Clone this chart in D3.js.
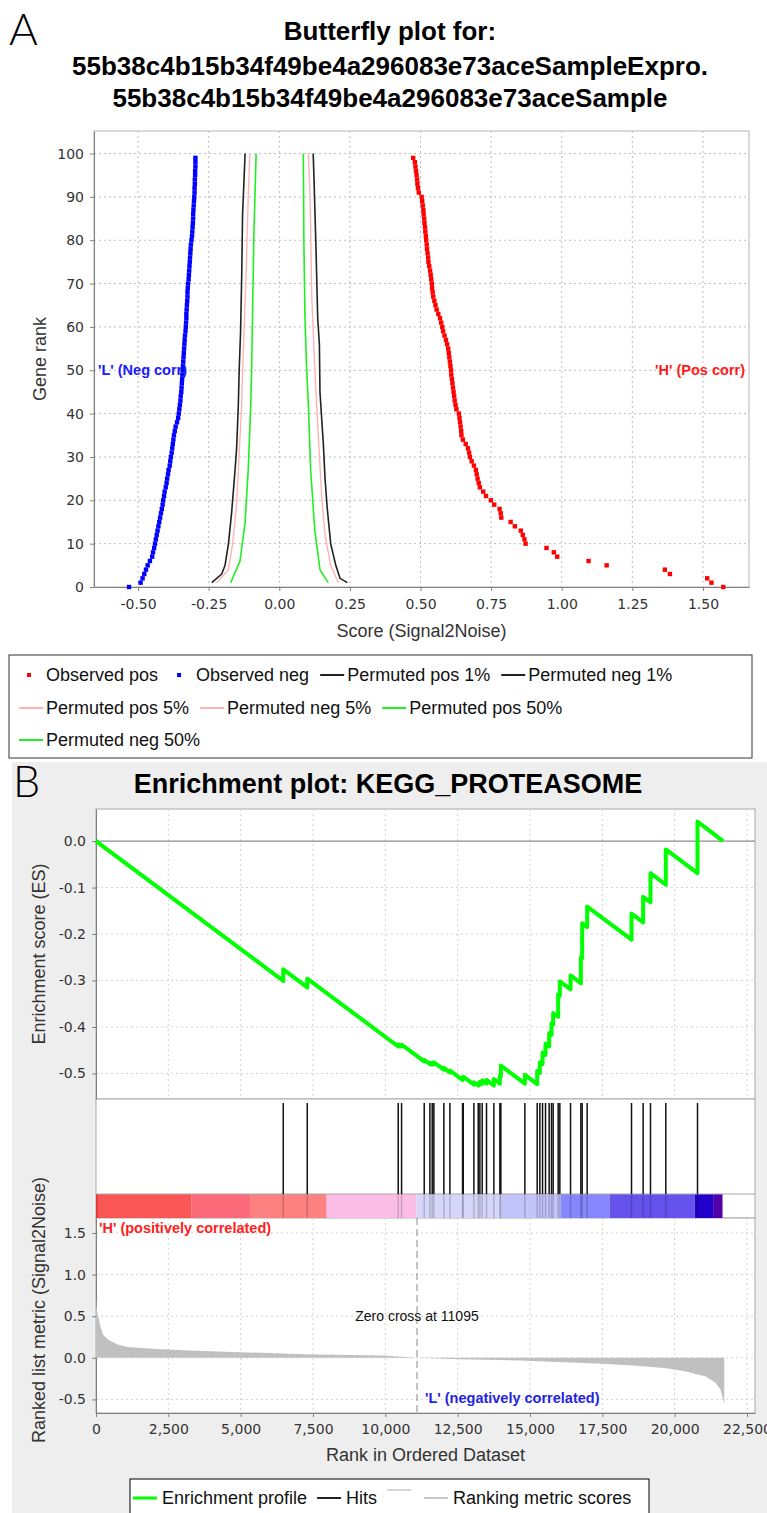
<!DOCTYPE html>
<meta charset="utf-8">
<style>
  html, body { margin:0; padding:0; background:#fff; }
  svg { display:block; }
</style>
<svg width="767" height="1513"></svg>
<script src="https://cdn.jsdelivr.net/npm/d3@7"></script>
<script>

// ---------- panel A data (butterfly plot) ----------
var titleA = ["Butterfly plot for:",
              "55b38c4b15b34f49be4a296083e73aceSampleExpro.",
              "55b38c4b15b34f49be4a296083e73aceSample"];
var scoreTicks = [-0.5, -0.25, 0, 0.25, 0.5, 0.75, 1, 1.25, 1.5];
var rankTicks = [0, 10, 20, 30, 40, 50, 60, 70, 80, 90, 100];

// observed score at gene rank 0..99
var obsPos = [1.572,1.530,1.515,1.383,1.365,1.159,1.095,0.984,0.972,0.946,
  0.872,0.868,0.862,0.855,0.834,0.819,0.786,0.784,0.780,0.761,
  0.749,0.732,0.722,0.710,0.706,0.702,0.699,0.696,0.689,0.681,
  0.675,0.672,0.668,0.660,0.650,0.645,0.644,0.642,0.640,0.638,
  0.636,0.627,0.624,0.621,0.619,0.617,0.615,0.613,0.611,0.609,
  0.608,0.606,0.604,0.602,0.600,0.598,0.594,0.590,0.585,0.580,
  0.577,0.573,0.569,0.563,0.557,0.553,0.549,0.545,0.543,0.541,
  0.540,0.538,0.536,0.534,0.531,0.528,0.527,0.525,0.523,0.522,
  0.520,0.519,0.517,0.516,0.514,0.513,0.511,0.510,0.508,0.506,
  0.504,0.494,0.491,0.489,0.488,0.486,0.484,0.482,0.480,0.474];
var obsNeg = [-0.532,-0.491,-0.484,-0.478,-0.472,-0.466,-0.458,-0.450,-0.447,-0.443,
  -0.440,-0.437,-0.434,-0.431,-0.428,-0.425,-0.422,-0.419,-0.416,-0.413,
  -0.411,-0.408,-0.406,-0.402,-0.399,-0.397,-0.394,-0.392,-0.388,-0.386,
  -0.384,-0.381,-0.379,-0.377,-0.375,-0.373,-0.370,-0.367,-0.362,-0.358,
  -0.356,-0.354,-0.352,-0.350,-0.349,-0.347,-0.346,-0.345,-0.344,-0.343,
  -0.342,-0.341,-0.340,-0.339,-0.338,-0.337,-0.336,-0.335,-0.334,-0.332,
  -0.331,-0.330,-0.329,-0.329,-0.328,-0.327,-0.326,-0.325,-0.325,-0.324,
  -0.323,-0.321,-0.320,-0.319,-0.318,-0.317,-0.316,-0.315,-0.314,-0.313,
  -0.311,-0.309,-0.308,-0.307,-0.306,-0.305,-0.305,-0.304,-0.303,-0.302,
  -0.301,-0.300,-0.300,-0.299,-0.299,-0.298,-0.298,-0.297,-0.297,-0.297];

// permuted envelopes: [rank, score]
var perm1Pos = [[1,0.241],[2,0.215],[5,0.200],[10,0.182],[18,0.170],[25,0.162],[33,0.156],[45,0.144],[56,0.142],[62,0.136],[78,0.130],[94,0.123],[100,0.120]];
var perm1Neg = [[1,-0.239],[3,-0.204],[5,-0.192],[10,-0.180],[17,-0.169],[25,-0.159],[32,-0.151],[42,-0.145],[50,-0.142],[59,-0.137],[72,-0.133],[86,-0.130],[100,-0.121]];
var perm5Pos = [[1,0.209],[5,0.182],[12,0.162],[21,0.150],[35,0.138],[50,0.126],[67,0.115],[90,0.109],[100,0.103]];
var perm5Neg = [[1,-0.222],[4,-0.180],[10,-0.165],[19,-0.151],[31,-0.142],[42,-0.133],[50,-0.130],[71,-0.118],[90,-0.110],[100,-0.104]];
var perm50Pos = [[1,0.173],[4,0.144],[13,0.126],[27,0.111],[42,0.103],[50,0.097],[62,0.091],[80,0.087],[100,0.085]];
var perm50Neg = [[1,-0.172],[6,-0.139],[15,-0.121],[27,-0.110],[42,-0.101],[50,-0.098],[81,-0.090],[100,-0.082]];

var legendA = ["Observed pos", "Observed neg", "Permuted pos 1%", "Permuted neg 1%",
               "Permuted pos 5%", "Permuted neg 5%", "Permuted pos 50%", "Permuted neg 50%"];

// ---------- panel B data (enrichment plot) ----------
var titleB = "Enrichment plot: KEGG_PROTEASOME";
var rankAxisTicks = [0, 2500, 5000, 7500, 10000, 12500, 15000, 17500, 20000, 22500];
var esTicks = [-0.5, -0.4, -0.3, -0.2, -0.1, 0.0];
var metricTicks = [-0.5, 0.0, 0.5, 1.0, 1.5];

// running enrichment score: [rank, ES]
var esProfile = [[0,0],
  [6472,-0.301],[6472,-0.276],[7301,-0.315],[7301,-0.296],
  [10445,-0.442],[10445,-0.437],[10561,-0.442],[10561,-0.438],
  [11344,-0.474],[11344,-0.471],[11540,-0.480],[11540,-0.477],
  [11620,-0.481],[11620,-0.477],[11678,-0.480],[11678,-0.476],
  [12023,-0.492],[12023,-0.488],[12231,-0.498],[12231,-0.494],
  [12669,-0.514],[12669,-0.510],[12692,-0.511],[12692,-0.507],
  [13060,-0.524],[13060,-0.519],[13210,-0.526],[13210,-0.521],
  [13267,-0.524],[13267,-0.518],[13347,-0.522],[13347,-0.515],
  [13497,-0.522],[13497,-0.514],[13751,-0.526],[13751,-0.512],
  [13958,-0.522],[13958,-0.505],[13993,-0.507],[13993,-0.483],
  [14822,-0.522],[14822,-0.503],[15248,-0.523],[15248,-0.495],
  [15340,-0.499],[15340,-0.476],[15433,-0.480],[15433,-0.455],
  [15536,-0.460],[15536,-0.436],[15662,-0.442],[15662,-0.413],
  [15743,-0.417],[15743,-0.392],[15800,-0.395],[15800,-0.370],
  [15973,-0.378],[15973,-0.330],[16031,-0.333],[16031,-0.302],
  [16401,-0.319],[16401,-0.289],[16757,-0.306],[16757,-0.250],
  [16803,-0.252],[16803,-0.177],[16975,-0.185],[16975,-0.141],
  [18508,-0.212],[18508,-0.156],[18910,-0.175],[18910,-0.120],
  [19164,-0.132],[19164,-0.069],[19693,-0.094],[19693,-0.018],
  [20789,-0.069],[20789,0.042],[21673,0.000]];

var hitRanks = [6472,7301,10445,10561,11344,11540,11620,11678,12023,12231,12669,12692,
  13060,13210,13267,13347,13497,13751,13958,13993,14822,15248,15340,15433,15536,15662,
  15743,15800,15973,16031,16401,16757,16803,16975,18508,18910,19164,19693,20789];

var bandEdges = [0,69,3306,5321,7971,11080,14017,16066,17759,20695,21328,21653];
var bandColors = ["#e8393f","#fa5656","#fb6a78","#fc8282","#fbbde6","#d6d6fb",
                  "#c4c4fd","#8686fd","#6652ec","#2200cc","#5000a8"];

// ranked list metric: [rank, Signal2Noise]
var metric = [[0,0.70],[20,0.60],[60,0.52],[155,0.375],[240,0.28],[409,0.22],[747,0.16],
  [1088,0.13],[1595,0.117],[2103,0.105],[3204,0.088],[4982,0.068],[7186,0.044],
  [9895,0.028],[11095,0.0],[12518,-0.016],[14636,-0.032],[16159,-0.052],[17517,-0.072],
  [18702,-0.096],[19717,-0.124],[20395,-0.164],[21072,-0.224],[21411,-0.30],
  [21580,-0.38],[21680,-0.50],[21715,-0.56]];
var zeroCross = 11095;

var legendB = ["Enrichment profile", "Hits", "", "Ranking metric scores"];

// ---------- drawing ----------
var svg = d3.select("svg");
var fTick = "'DejaVu Sans', sans-serif",
    fText = "'Liberation Sans', Arial, sans-serif";

function styleAxis(g) {
  g.attr("font-family", fTick).attr("font-size", 14);
  g.select(".domain").attr("stroke", "#808080");
  g.selectAll(".tick line").attr("stroke", "#808080");
  g.selectAll(".tick text").attr("fill", "#333");
}
function grid(g, xs, ys, x, y, box, color) {
  g.append("g").selectAll("line").data(xs).join("line")
      .attr("x1", function(d) { return x(d); }).attr("x2", function(d) { return x(d); })
      .attr("y1", box.t).attr("y2", box.b)
      .attr("stroke", color).attr("stroke-dasharray", "2,3");
  g.append("g").selectAll("line").data(ys).join("line")
      .attr("y1", function(d) { return y(d); }).attr("y2", function(d) { return y(d); })
      .attr("x1", box.l).attr("x2", box.r)
      .attr("stroke", color).attr("stroke-dasharray", "2,3");
}

// ===== Panel A =====
svg.append("text").attr("x", 9).attr("y", 45)
    .attr("font-family", "Lato, " + fText).attr("font-weight", 300).attr("font-size", 44)
    .text("A");

svg.append("g").selectAll("text").data(titleA).join("text")
    .attr("x", 390).attr("y", function(d, i) { return [40, 75, 107][i]; })
    .attr("text-anchor", "middle").attr("font-family", fText)
    .attr("font-weight", "bold").attr("font-size", 26)
    .text(function(d) { return d; });

var ba = {l: 94, r: 749, t: 131, b: 587};
var xA = d3.scaleLinear().domain([-0.656, 1.663]).range([ba.l, ba.r]);
var yA = d3.scaleLinear().domain([0, 105.2]).range([ba.b, ba.t]);
var gA = svg.append("g");

gA.append("rect").attr("x", ba.l).attr("y", ba.t)
    .attr("width", ba.r - ba.l).attr("height", ba.b - ba.t)
    .attr("fill", "#fff").attr("stroke", "#b4b4b4");
grid(gA, scoreTicks, rankTicks.slice(1), xA, yA, ba, "#bdbdbd");

gA.append("g").attr("transform", "translate(0," + ba.b + ")")
    .call(d3.axisBottom(xA).tickValues(scoreTicks).tickSize(4).tickSizeOuter(0)
      .tickPadding(8).tickFormat(function(d) { return d.toFixed(2); }))
    .call(styleAxis);
gA.append("g").attr("transform", "translate(" + ba.l + ",0)")
    .call(d3.axisLeft(yA).tickValues(rankTicks).tickSize(4).tickSizeOuter(0)
      .tickPadding(6).tickFormat(d3.format("d")))
    .call(styleAxis);

gA.append("text").attr("x", (ba.l + ba.r) / 2).attr("y", 637)
    .attr("text-anchor", "middle").attr("font-family", fText).attr("font-size", 18)
    .attr("fill", "#333").text("Score (Signal2Noise)");
gA.append("text").attr("transform", "translate(46," + (ba.t + ba.b) / 2 + ") rotate(-90)")
    .attr("text-anchor", "middle").attr("font-family", fText).attr("font-size", 18)
    .attr("fill", "#333").text("Gene rank");

var permLine = d3.line()
    .x(function(d) { return xA(d[1]); })
    .y(function(d) { return yA(d[0]); });
var permSets = [
  {d: perm5Pos, c: "#ffb4b4", w: 1.4}, {d: perm5Neg, c: "#ffb4b4", w: 1.4},
  {d: perm50Pos, c: "#22ee22", w: 1.6}, {d: perm50Neg, c: "#22ee22", w: 1.6},
  {d: perm1Pos, c: "#222", w: 1.6}, {d: perm1Neg, c: "#222", w: 1.6}];
gA.append("g").selectAll("path").data(permSets).join("path")
    .attr("d", function(s) { return permLine(s.d); })
    .attr("fill", "none")
    .attr("stroke", function(s) { return s.c; })
    .attr("stroke-width", function(s) { return s.w; });

gA.append("g").selectAll("rect").data(obsNeg).join("rect")
    .attr("x", function(d) { return xA(d) - 2.2; })
    .attr("y", function(d, i) { return yA(i) - 2.2; })
    .attr("width", 4.4).attr("height", 4.4).attr("fill", "#0000ff");
gA.append("g").selectAll("rect").data(obsPos).join("rect")
    .attr("x", function(d) { return xA(d) - 2.2; })
    .attr("y", function(d, i) { return yA(i) - 2.2; })
    .attr("width", 4.4).attr("height", 4.4).attr("fill", "#ff0000");

gA.append("text").attr("x", 98).attr("y", yA(50) + 5)
    .attr("font-family", fText).attr("font-weight", "bold").attr("font-size", 14.5)
    .attr("fill", "#1a1aff").text("'L' (Neg corr)");
gA.append("text").attr("x", 745).attr("y", yA(50) + 5).attr("text-anchor", "end")
    .attr("font-family", fText).attr("font-weight", "bold").attr("font-size", 14.5)
    .attr("fill", "#ff1a1a").text("'H' (Pos corr)");

// legend A
var legA = svg.append("g");
legA.append("rect").attr("x", 9).attr("y", 655).attr("width", 743).attr("height", 103)
    .attr("fill", "none").attr("stroke", "#333");
var legAMarks = [
  {t: "dot", c: "#ff0000"}, {t: "dot", c: "#0000ff"}, {t: "line", c: "#222"}, {t: "line", c: "#222"},
  {t: "line", c: "#ffb4b4"}, {t: "line", c: "#ffb4b4"}, {t: "line", c: "#22ee22"}, {t: "line", c: "#22ee22"}];
var legARows = [0, 0, 0, 0, 1, 1, 1, 2], rowY = [675, 708, 740];
var cx = 19, lastRow = 0;
legendA.forEach(function(lbl, i) {
  var r = legARows[i];
  if (r !== lastRow) { cx = 19; lastRow = r; }
  var m = legAMarks[i], y = rowY[r];
  if (m.t === "dot") {
    legA.append("rect").attr("x", cx + 8).attr("y", y - 2).attr("width", 4).attr("height", 4).attr("fill", m.c);
  } else {
    legA.append("line").attr("x1", cx).attr("x2", cx + 24).attr("y1", y).attr("y2", y)
        .attr("stroke", m.c).attr("stroke-width", 2);
  }
  var t = legA.append("text").attr("x", cx + 27).attr("y", y + 6)
      .attr("font-family", fText).attr("font-size", 18).attr("fill", "#111").text(lbl);
  cx = cx + 27 + t.node().getComputedTextLength() + 11;
});

// ===== Panel B =====
svg.append("rect").attr("x", 12).attr("y", 762).attr("width", 755).attr("height", 751)
    .attr("fill", "#eeeeee");
svg.append("text").attr("x", 13).attr("y", 797)
    .attr("font-family", "Lato, " + fText).attr("font-weight", 300).attr("font-size", 43)
    .text("B");
svg.append("text").attr("x", 388).attr("y", 793).attr("text-anchor", "middle")
    .attr("font-family", fText).attr("font-weight", "bold").attr("font-size", 27)
    .text(titleB);

var xB = d3.scaleLinear().domain([0, 22776]).range([96, 755]);
var es = {l: 96, r: 755, t: 809, b: 1099};
var hp = {l: 96, r: 755, t: 1099, b: 1218};
var mp = {l: 96, r: 755, t: 1218, b: 1413};
var yES = d3.scaleLinear().domain([-0.555, 0.069]).range([es.b, es.t]);
var yM = d3.scaleLinear().domain([-0.663, 1.68]).range([mp.b, mp.t]);
var gB = svg.append("g");

[es, hp, mp].forEach(function(p) {
  gB.append("rect").attr("x", p.l).attr("y", p.t).attr("width", p.r - p.l).attr("height", p.b - p.t)
      .attr("fill", "#fff").attr("stroke", "#a8a8a8");
});
grid(gB, rankAxisTicks.slice(1), esTicks.slice(0, -1), xB, yES, es, "#d2d2d2");
grid(gB, rankAxisTicks.slice(1), metricTicks, xB, yM, mp, "#d2d2d2");
gB.append("line").attr("x1", es.l).attr("x2", es.r).attr("y1", yES(0)).attr("y2", yES(0))
    .attr("stroke", "#8c8c8c").attr("stroke-width", 1.3);

gB.append("g").attr("transform", "translate(" + es.l + ",0)")
    .call(d3.axisLeft(yES).tickValues(esTicks).tickSize(4).tickSizeOuter(0).tickPadding(6)
      .tickFormat(function(d) { return d.toFixed(1); }))
    .call(styleAxis);
gB.append("g").attr("transform", "translate(" + mp.l + ",0)")
    .call(d3.axisLeft(yM).tickValues(metricTicks).tickSize(4).tickSizeOuter(0).tickPadding(6)
      .tickFormat(function(d) { return d.toFixed(1); }))
    .call(styleAxis);
gB.append("g").attr("transform", "translate(0," + mp.b + ")")
    .call(d3.axisBottom(xB).tickValues(rankAxisTicks).tickSize(4).tickSizeOuter(0).tickPadding(7)
      .tickFormat(d3.format(",")))
    .call(styleAxis);

// ranked metric area
gB.append("path").datum(metric)
    .attr("d", d3.area().x(function(d) { return xB(d[0]); })
      .y0(yM(0)).y1(function(d) { return yM(d[1]); }))
    .attr("fill", "#c0c0c0");

// colour bar
var bar = {t: 1194, b: 1218};
gB.append("g").selectAll("rect").data(bandColors).join("rect")
    .attr("x", function(d, i) { return xB(bandEdges[i]); })
    .attr("width", function(d, i) { return xB(bandEdges[i + 1]) - xB(bandEdges[i]); })
    .attr("y", bar.t).attr("height", bar.b - bar.t)
    .attr("fill", function(d) { return d; });
gB.append("line").attr("x1", hp.l).attr("x2", hp.r).attr("y1", bar.t).attr("y2", bar.t)
    .attr("stroke", "#a8a8a8");

// hits
gB.append("g").selectAll("line").data(hitRanks).join("line")
    .attr("x1", function(d) { return xB(d); }).attr("x2", function(d) { return xB(d); })
    .attr("y1", 1103).attr("y2", bar.t)
    .attr("stroke", "#111").attr("stroke-width", 1.5);
gB.append("g").selectAll("line").data(hitRanks).join("line")
    .attr("x1", function(d) { return xB(d); }).attr("x2", function(d) { return xB(d); })
    .attr("y1", bar.t).attr("y2", bar.b)
    .attr("stroke", "#000").attr("stroke-opacity", 0.18).attr("stroke-width", 1.5);

// zero cross
gB.append("line").attr("x1", xB(zeroCross)).attr("x2", xB(zeroCross))
    .attr("y1", mp.t).attr("y2", mp.b)
    .attr("stroke", "#8a8a8a").attr("stroke-dasharray", "7,4");
gB.append("text").attr("x", 417).attr("y", yM(0.5) + 5).attr("text-anchor", "middle")
    .attr("font-family", fText).attr("font-size", 14).attr("fill", "#111")
    .text("Zero cross at " + zeroCross);
gB.append("text").attr("x", 99).attr("y", 1233)
    .attr("font-family", fText).attr("font-weight", "bold").attr("font-size", 14.5)
    .attr("fill", "#ff2020").text("'H' (positively correlated)");
gB.append("text").attr("x", 425).attr("y", 1403)
    .attr("font-family", fText).attr("font-weight", "bold").attr("font-size", 14.5)
    .attr("fill", "#2424e0").text("'L' (negatively correlated)");

// ES profile
gB.append("path").datum(esProfile)
    .attr("d", d3.line().x(function(d) { return xB(d[0]); }).y(function(d) { return yES(d[1]); }))
    .attr("fill", "none").attr("stroke", "#00ff00").attr("stroke-width", 4)
    .attr("stroke-linejoin", "round");

// axis titles
gB.append("text").attr("transform", "translate(45," + (es.t + es.b) / 2 + ") rotate(-90)")
    .attr("text-anchor", "middle").attr("font-family", fText).attr("font-size", 18)
    .attr("fill", "#333").text("Enrichment score (ES)");
gB.append("text").attr("transform", "translate(45,1310) rotate(-90)")
    .attr("text-anchor", "middle").attr("font-family", fText).attr("font-size", 18)
    .attr("fill", "#333").text("Ranked list metric (Signal2Noise)");
gB.append("text").attr("x", (mp.l + mp.r) / 2).attr("y", 1461).attr("text-anchor", "middle")
    .attr("font-family", fText).attr("font-size", 18).attr("fill", "#333")
    .text("Rank in Ordered Dataset");

// legend B
var legB = svg.append("g");
legB.append("rect").attr("x", 130).attr("y", 1479).attr("width", 519).attr("height", 50)
    .attr("fill", "#fff").attr("stroke", "#000");
var legBMarks = [{c: "#00ff00", dy: 0}, {c: "#222", dy: 0}, {c: "#d8d8d8", dy: -8}, {c: "#c8c8c8", dy: 0}];
var bx = 133, by = 1498;
legendB.forEach(function(lbl, i) {
  var m = legBMarks[i];
  legB.append("line").attr("x1", bx).attr("x2", bx + 24)
      .attr("y1", by + m.dy).attr("y2", by + m.dy)
      .attr("stroke", m.c).attr("stroke-width", i === 0 ? 3 : 2);
  if (lbl) {
    var t = legB.append("text").attr("x", bx + 29).attr("y", by + 6)
        .attr("font-family", fText).attr("font-size", 18).attr("fill", "#111").text(lbl);
    bx = bx + 29 + t.node().getComputedTextLength() + 10;
  } else {
    bx = bx + 37;
  }
});

</script>
